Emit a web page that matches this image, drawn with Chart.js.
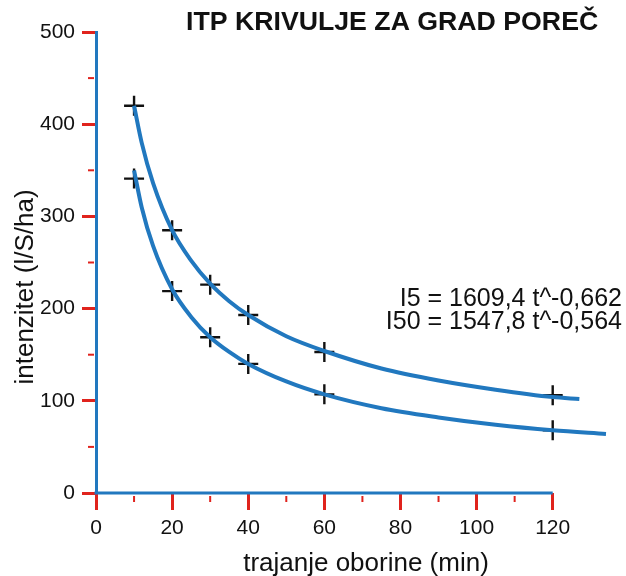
<!DOCTYPE html>
<html>
<head>
<meta charset="utf-8">
<script src="https://cdn.jsdelivr.net/npm/chart.js@4/dist/chart.umd.min.js"></script>
<style>
  body { margin: 0; background: #fff; }
  #wrap { width: 626px; height: 576px; }
</style>
</head>
<body>
<div id="wrap"><canvas id="itp"></canvas></div>
<script>
// measured points (markers)
const durations = [10, 20, 30, 40, 60, 120];
const i50Points = [420, 285, 226, 193, 153, 106];
const i5Points = [341, 219, 169, 140, 107, 68];

// fitted curves
const curveT50 = [10, 12, 15, 20, 25, 30, 35, 40, 50, 60, 75, 90, 105, 120, 127];
const curveI50 = [420, 380, 336, 285, 252, 227, 208, 193, 170, 154, 135, 122, 112, 104, 102];
const curveT5 = [10, 12, 15, 20, 25, 30, 35, 40, 50, 60, 75, 90, 105, 120, 134];
const curveI5 = [350, 310, 268, 221, 191, 169, 153, 140, 121, 107, 92, 82, 74, 68, 64];

const xMinor = [10, 30, 50, 70, 90, 110];
const yMinor = [50, 150, 250, 350, 450];
const xAxisEnd = 120;   // the drawn axis stops here, the curves run on a bit

const title = 'ITP KRIVULJE ZA GRAD POREČ';
const equations = ['I5 = 1609,4 t^-0,662', 'I50 = 1547,8 t^-0,564'];
const xTitle = 'trajanje oborine (min)';
const yTitle = 'intenzitet (l/S/ha)';

const BLUE = '#2178bf';
const RED = '#e0231d';
const INK = '#111111';
const FONT = "'Liberation Sans', Arial, sans-serif";

const toXY = (xs, ys) => xs.map((x, i) => ({ x: x, y: ys[i] }));

const extras = {
  id: 'extras',
  beforeDatasetsDraw(chart) {
    const ctx = chart.ctx;
    const x = chart.scales.x, y = chart.scales.y;
    ctx.save();
    // x axis line, only up to 120
    ctx.strokeStyle = BLUE;
    ctx.lineWidth = 3;
    ctx.beginPath();
    ctx.moveTo(x.getPixelForValue(0) - 1.5, y.bottom);
    ctx.lineTo(x.getPixelForValue(xAxisEnd), y.bottom);
    ctx.stroke();
    // minor ticks
    ctx.strokeStyle = RED;
    ctx.lineWidth = 2;
    xMinor.forEach(v => {
      const px = x.getPixelForValue(v);
      ctx.beginPath();
      ctx.moveTo(px, y.bottom + 3);
      ctx.lineTo(px, y.bottom + 9);
      ctx.stroke();
    });
    yMinor.forEach(v => {
      const py = y.getPixelForValue(v);
      ctx.beginPath();
      ctx.moveTo(x.left - 8, py);
      ctx.lineTo(x.left - 2, py);
      ctx.stroke();
    });
    ctx.restore();
  },
  afterDraw(chart) {
    const ctx = chart.ctx;
    ctx.save();
    ctx.fillStyle = INK;
    ctx.textBaseline = 'middle';
    // heading
    ctx.textAlign = 'left';
    ctx.font = 'bold 26.7px ' + FONT;
    ctx.fillText(title, 186, 23);
    // equations
    ctx.textAlign = 'right';
    ctx.font = '25px ' + FONT;
    ctx.fillText(equations[0], 622, 299);
    ctx.fillText(equations[1], 622, 322);
    // axis titles
    ctx.textAlign = 'center';
    ctx.font = '26px ' + FONT;
    ctx.fillText(xTitle, 366, 564);
    ctx.translate(26, 287);
    ctx.rotate(-Math.PI / 2);
    ctx.fillText(yTitle, 0, 0);
    ctx.restore();
  }
};

new Chart(document.getElementById('itp'), {
  type: 'scatter',
  data: {
    datasets: [{
      label: 'I50 krivulja',
      data: toXY(curveT50, curveI50),
      showLine: true,
      borderColor: BLUE,
      borderWidth: 4,
      pointRadius: 0,
      cubicInterpolationMode: 'monotone',
      clip: false,
    }, {
      label: 'I5 krivulja',
      data: toXY(curveT5, curveI5),
      showLine: true,
      borderColor: BLUE,
      borderWidth: 4,
      pointRadius: 0,
      cubicInterpolationMode: 'monotone',
      clip: false,
    }, {
      label: 'I50',
      data: toXY(durations, i50Points),
      pointStyle: 'cross',
      pointRadius: 10,
      borderColor: INK,
      borderWidth: 2.4,
      clip: false,
    }, {
      label: 'I5',
      data: toXY(durations, i5Points),
      pointStyle: 'cross',
      pointRadius: 10,
      borderColor: INK,
      borderWidth: 2.4,
      clip: false,
    }],
  },
  options: {
    responsive: true,
    maintainAspectRatio: false,
    animation: false,
    layout: { padding: { left: 0, right: 12, top: 32, bottom: 0 } },
    plugins: {
      legend: { display: false },
      tooltip: { enabled: false },
    },
    scales: {
      x: {
        type: 'linear',
        min: 0,
        max: 136,
        afterFit: (scale) => { scale.height = 83; },
        border: { display: false },
        grid: { drawOnChartArea: false, tickLength: 17, tickColor: RED, tickWidth: 3 },
        ticks: { stepSize: 20, includeBounds: false, padding: 6, color: INK, font: { family: FONT, size: 21 } },
      },
      y: {
        min: 0,
        max: 500,
        afterFit: (scale) => { scale.width = 96; },
        border: { color: BLUE, width: 3 },
        grid: { drawOnChartArea: false, tickLength: 14, tickColor: RED, tickWidth: 3 },
        ticks: { stepSize: 100, padding: 7, color: INK, font: { family: FONT, size: 21 } },
      },
    },
  },
  plugins: [extras],
});
</script>
</body>
</html>
